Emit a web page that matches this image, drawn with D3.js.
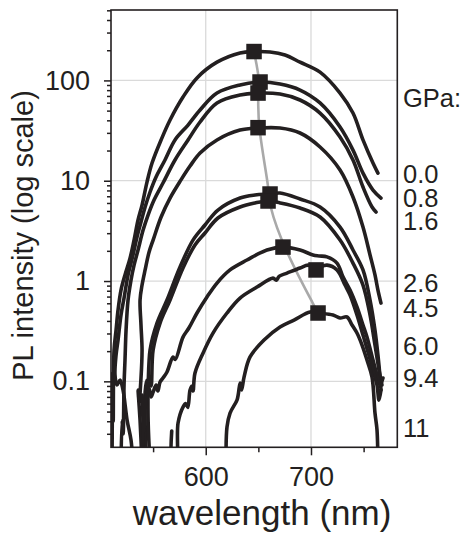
<!DOCTYPE html>
<html><head><meta charset="utf-8">
<script src="https://cdn.jsdelivr.net/npm/d3@7"></script>
<style>
body{margin:0;background:#fff}
svg{display:block}
text{font-family:"Liberation Sans",Arial,Helvetica,sans-serif;fill:#231f20}
</style>
</head><body>
<svg id="chart" width="469" height="537"></svg>
<script>
// ---------- data ----------
const xTickValues = [600, 700];
const xMinorTicks = [550, 650, 750];
const yTickValues = [0.1, 1, 10, 100];
const yTickLabels = ["0.1", "1", "10", "100"];
const yMinorTicks = [0.03,0.04,0.05,0.06,0.07,0.08,0.09,0.2,0.3,0.4,0.5,0.6,0.7,0.8,0.9,
                     2,3,4,5,6,7,8,9,20,30,40,50,60,70,80,90,200,300,400,500];

const pressureHeader = "GPa:";
const pressureLabels = ["0.0","0.8","1.6","2.6","4.5","6.0","9.4","11"];
// intensity level (log axis) at which each label's baseline sits
const headerLevel = 54.7;
const labelLevels = [9.42, 5.51, 3.22, 0.782, 0.441, 0.183, 0.0883, 0.0281];

// spectra: [wavelength nm, PL intensity]
const spectrum00 = [[511,0.015],[511.6,0.12],[512.1,0.04],[512.9,0.205],[514.8,0.324],[516.7,0.514],[519.5,0.813],[523.3,1.15],[528.1,1.69],[531.9,2.56],[535.7,4.06],[539.5,5.72],[544.2,9.7],[549,15],[557.6,25.5],[566.1,40.3],[578.4,68.3],[591.7,106],[610.7,152],[632.6,188],[645.9,194],[661.1,192],[675.3,179],[689.6,152],[708.6,121],[727.6,74.8],[739.9,47.3],[749.4,25.5],[758.9,15],[763.6,11.9]];
const spectrum08 = [[530.9,0.015],[529,0.026],[525.3,0.041],[521.4,0.082],[518.6,0.103],[515.7,0.092],[513.8,0.116],[514.8,0.183],[516.7,0.258],[519.5,0.459],[522.4,0.677],[526.2,1.15],[530.9,1.82],[534.7,2.75],[538.5,3.87],[542.4,5.47],[547.1,7.72],[552.8,10.9],[561.3,16.1],[570.8,25.5],[583.2,35.9],[594.6,50.7],[610.7,74.8],[632.6,90],[651.6,96.4],[670.6,92],[689.6,80.2],[708.6,59.6],[727.6,34.3],[739.9,20.2],[749.4,11.9],[758.9,8.07],[766.5,6.72]];
const spectrum16 = [[519.5,0.015],[520.5,0.041],[521.5,0.03],[522.4,0.092],[523.3,0.163],[524.3,0.324],[526.2,0.647],[529,1.02],[531.9,1.44],[535.7,2.04],[540.5,3.22],[545.2,4.55],[550.9,6.43],[559.4,9.49],[570.8,16.1],[583.2,25.5],[594.6,38.5],[610.7,59.6],[632.6,71.5],[649.7,74.8],[670.6,73.1],[689.6,63.8],[708.6,47.3],[727.6,27.3],[739.9,16.1],[749.4,8.65],[758,5.47],[761.8,4.88]];
const spectrum26 = [[539.5,0.015],[537.6,0.041],[535.7,0.082],[536.6,0.06],[538.5,0.108],[539.5,0.205],[538.5,0.364],[537.6,0.647],[539.5,0.912],[542.4,1.29],[546.2,1.95],[550,2.56],[557.6,4.35],[566.1,6.72],[576.5,10.2],[585.1,14],[594.6,18.9],[610.7,25.5],[632.6,32],[649.7,33.5],[670.6,33.5],[689.6,29.9],[708.6,21.7],[727.6,12.8],[739.9,6.89],[749.4,3.45],[756.1,1.82],[760.8,1.15],[763.6,0.813],[766.5,0.603]];
const spectrum45 = [[543.3,0.015],[542.4,0.041],[542.4,0.078],[544.2,0.103],[545,0.085],[547.1,0.205],[553.7,0.381],[563.2,0.647],[575.6,1.38],[587.9,2.56],[599.3,3.62],[611.6,5.1],[632.6,6.72],[646.8,7.21],[661.1,7.37],[670.6,7.54],[689.6,6.57],[708.6,5.47],[727.6,3.45],[739.9,2.04],[749.4,1.29],[756.1,0.647],[760.8,0.324],[763.6,0.183],[765.6,0.11],[766.5,0.082]];
const spectrum60 = [[547.1,0.015],[545.2,0.046],[546.1,0.103],[548,0.09],[550,0.205],[556.6,0.381],[566.1,0.647],[578.4,1.35],[589.8,2.29],[599.3,3.01],[611.6,4.25],[632.6,5.47],[646.8,6.0],[659.2,6.28],[670.6,6.0],[689.6,5.34],[708.6,4.35],[727.6,2.56],[739.9,1.51],[749.4,0.912],[756.1,0.459],[760.8,0.23],[764.6,0.13],[767.4,0.092]];
const spectrum94 = [[539.5,0.015],[540.5,0.041],[539.5,0.073],[541.2,0.032],[543.3,0.0682],[546.1,0.0857],[548,0.07],[550,0.078],[552.8,0.092],[554.5,0.08],[556.6,0.0984],[559.4,0.108],[563.2,0.124],[568.9,0.175],[571,0.165],[578.4,0.276],[584,0.34],[591.7,0.48],[601.2,0.693],[610.7,0.955],[623.1,1.29],[639.2,1.62],[658.2,2.04],[673.4,2.18],[689.6,2.04],[701.9,1.82],[708,1.78],[715.2,1.74],[724.7,1.51],[730.4,1.1],[737.1,0.813],[743.7,0.551],[749.4,0.364],[753.2,0.276],[758.9,0.163],[762.7,0.116],[765.6,0.092],[768.4,0.108]];
const spectrum11 = [[567.7,0.032],[568.5,0.015],[571.8,0.015],[573.7,0.0384],[578.4,0.0554],[581,0.06],[583,0.055],[585.1,0.082],[587,0.09],[588,0.08],[589.8,0.121],[597.4,0.191],[606.9,0.303],[620.2,0.48],[632.6,0.677],[648.7,0.872],[663.9,1.07],[667,1.02],[670,1.12],[677.2,1.2],[689.6,1.35],[697.2,1.44],[704.8,1.35],[715.2,1.44],[724.7,1.29],[732.3,0.912],[737.1,0.725],[743.7,0.459],[749.4,0.289],[754.2,0.196],[758.9,0.13],[762.7,0.092],[764.6,0.065],[766.5,0.082]];
const spectrumRel = [[619.3,0.015],[620.2,0.035],[623.1,0.0483],[629.7,0.065],[631,0.075],[632.6,0.096],[634,0.082],[636.4,0.11],[642.1,0.175],[655.4,0.258],[670.6,0.348],[683.9,0.408],[699.1,0.491],[706.7,0.48],[720.9,0.459],[727.6,0.428],[734.2,0.438],[739,0.364],[743.7,0.303],[748.5,0.23],[753.2,0.163],[758,0.11],[760.8,0.0483],[762.7,0.033],[763.6,0.015]];

const spectra = [spectrum00, spectrum08, spectrum16, spectrum26, spectrum45, spectrum60, spectrum94, spectrum11, spectrumRel];

// peak positions [wavelength, intensity]
const peaks = [[645.9,194],[651.6,96.4],[649.7,74.8],[649.7,33.8],[661.1,7.37],[659.2,6.28],[673.4,2.18],[704.8,1.29],[706.7,0.48]];
// peaks joined by the grey trend line (index into peaks)
const trendIdx = [0,1,2,3,4,5,6,8];

// ---------- layout ----------
const L = 111, R = 397.3, T = 10, B = 447.3;
const svg = d3.select("#chart");
const ink = "#231f20";

const x = d3.scaleLinear().domain([510, 782]).range([L, R]);
const y = d3.scaleLog().domain([0.022, 503.5]).range([B, T]);

// grid
const grid = svg.append("g");
grid.selectAll("line.gx").data(xTickValues).enter().append("line")
  .attr("x1", d => x(d)).attr("x2", d => x(d)).attr("y1", T).attr("y2", B)
  .attr("stroke", "#dadada").attr("stroke-width", 1.3);
grid.selectAll("line.gy").data(yTickValues).enter().append("line")
  .attr("y1", d => y(d)).attr("y2", d => y(d)).attr("x1", L).attr("x2", R)
  .attr("stroke", "#dadada").attr("stroke-width", 1.3);

// clip
svg.append("clipPath").attr("id", "plotclip").append("rect")
  .attr("x", L).attr("y", T).attr("width", R - L).attr("height", B - T);

// grey trend line
const trendPts = trendIdx.map(i => peaks[i]);
svg.append("path")
  .attr("d", d3.line().x(d => x(d[0])).y(d => y(d[1])).curve(d3.curveBasis)(trendPts))
  .attr("fill", "none").attr("stroke", "#a9a9a9").attr("stroke-width", 2.6);

// spectra
const lineGen = d3.line().x(d => x(d[0])).y(d => y(d[1])).curve(d3.curveCatmullRom.alpha(0.5));
svg.append("g").attr("clip-path", "url(#plotclip)")
  .selectAll("path").data(spectra).enter().append("path")
  .attr("d", lineGen)
  .attr("fill", "none").attr("stroke", ink).attr("stroke-width", 3.6)
  .attr("stroke-linejoin", "round").attr("stroke-linecap", "round");

// peak markers
const ms = 15.5;
svg.append("g").selectAll("rect").data(peaks).enter().append("rect")
  .attr("x", d => x(d[0]) - ms / 2).attr("y", d => y(d[1]) - ms / 2)
  .attr("width", ms).attr("height", ms).attr("fill", ink);

// axes
const fs = 27;
const xAxis = svg.append("g").attr("transform", `translate(0,${B})`)
  .call(d3.axisBottom(x).tickValues(xTickValues).tickFormat(d3.format("d")).tickSize(8).tickPadding(12).tickSizeOuter(0));
const xMinorAxis = svg.append("g").attr("transform", `translate(0,${B})`)
  .call(d3.axisBottom(x).tickValues(xMinorTicks).tickFormat("").tickSize(5).tickSizeOuter(0));
const yAxis = svg.append("g").attr("transform", `translate(${L},0)`)
  .call(d3.axisLeft(y).tickValues(yTickValues).tickFormat((d, i) => yTickLabels[i]).tickSize(7).tickPadding(14).tickSizeOuter(0));
const yMinorAxis = svg.append("g").attr("transform", `translate(${L},0)`)
  .call(d3.axisLeft(y).tickValues(yMinorTicks).tickFormat("").tickSize(4).tickSizeOuter(0));
[xAxis, xMinorAxis, yAxis, yMinorAxis].forEach(g => {
  g.select(".domain").remove();
  g.selectAll(".tick line").attr("stroke", ink).attr("stroke-width", 1.5);
  g.selectAll(".tick text").attr("font-size", fs).attr("fill", ink)
    .style("font-family", '"Liberation Sans",Arial,sans-serif');
});

// frame
svg.append("rect").attr("x", L).attr("y", T).attr("width", R - L).attr("height", B - T)
  .attr("fill", "none").attr("stroke", ink).attr("stroke-width", 1.6);

// axis titles
svg.append("text").attr("x", 262).attr("y", 525).attr("text-anchor", "middle")
  .attr("font-size", 35).text("wavelength (nm)");
svg.append("text").attr("transform", "translate(33,235.5) rotate(-90)").attr("text-anchor", "middle")
  .attr("font-size", 29).text("PL intensity (log scale)");

// pressure labels
svg.append("text").attr("x", 403).attr("y", y(headerLevel)).attr("font-size", 25.5).text(pressureHeader);
svg.append("g").selectAll("text").data(pressureLabels).enter().append("text")
  .attr("x", 403).attr("y", (d, i) => y(labelLevels[i])).attr("font-size", 25.5).text(d => d);
</script>
</body></html>
